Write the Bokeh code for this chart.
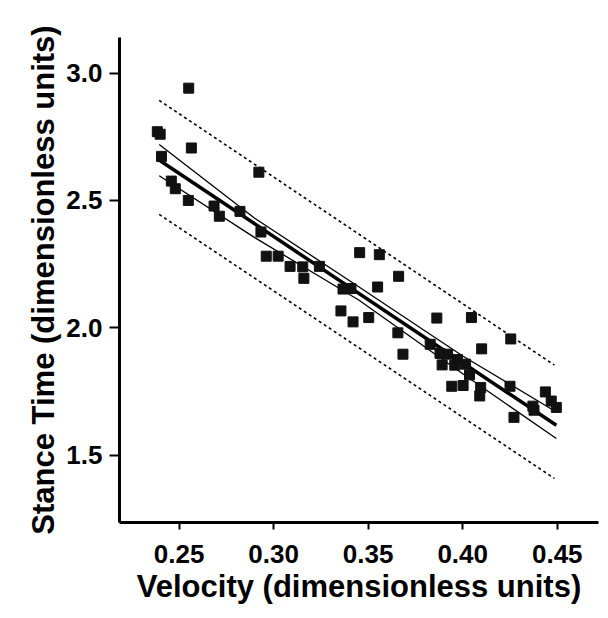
from bokeh.plotting import figure
from bokeh.models import Range1d, FixedTicker, PrintfTickFormatter
from bokeh.embed import file_html
from bokeh.resources import INLINE

# ---- data ----
velocity = [0.2385, 0.2400, 0.2551, 0.2565, 0.2407, 0.2459, 0.2480, 0.2549,
            0.2685, 0.2713, 0.2822, 0.2922, 0.2933, 0.2961, 0.3024, 0.3087,
            0.3154, 0.3160, 0.3242, 0.3455, 0.3559, 0.3661, 0.3367, 0.3409,
            0.3550, 0.3356, 0.3420, 0.3503, 0.3863, 0.4046, 0.3657, 0.3828,
            0.3684, 0.4100, 0.3880, 0.3920, 0.3972, 0.4015, 0.3891, 0.3958,
            0.4036, 0.3942, 0.4002, 0.4095, 0.4090, 0.4254, 0.4250, 0.4437,
            0.4468, 0.4495, 0.4371, 0.4377, 0.4271]
stance_time = [2.770, 2.760, 2.941, 2.706, 2.673, 2.576, 2.546, 2.500,
               2.478, 2.438, 2.457, 2.611, 2.376, 2.281, 2.281, 2.241,
               2.239, 2.194, 2.241, 2.295, 2.287, 2.202, 2.152, 2.154,
               2.160, 2.066, 2.023, 2.040, 2.038, 2.040, 1.980, 1.935,
               1.896, 1.917, 1.899, 1.896, 1.875, 1.857, 1.854, 1.853,
               1.815, 1.770, 1.773, 1.765, 1.732, 1.956, 1.770, 1.748,
               1.712, 1.687, 1.692, 1.676, 1.648]

fit_x = [0.2398, 0.4495]
fit_y = [2.657, 1.617]

ci_x = [0.2395, 0.290, 0.345, 0.400, 0.4495]
ci_upper = [2.720, 2.430, 2.161, 1.889, 1.669]
ci_lower = [2.597, 2.354, 2.109, 1.819, 1.565]

pi_x = [0.2395, 0.4485]
pi_upper = [2.893, 1.853]
pi_lower = [2.445, 1.408]

x_ticks = [0.25, 0.30, 0.35, 0.40, 0.45]
y_ticks = [1.5, 2.0, 2.5, 3.0]

FONT = "Liberation Sans"

p = figure(width=600, height=610, output_backend="svg", toolbar_location=None,
           x_range=Range1d(0.2185, 0.4718), y_range=Range1d(1.235, 3.14),
           min_border_left=119, min_border_right=2, min_border_top=37,
           min_border_bottom=88)
p.outline_line_color = None
p.grid.visible = False
p.background_fill_color = "white"
p.border_fill_color = "white"

# lines
p.line(pi_x, pi_upper, line_color="black", line_width=1.6, line_dash="3 3")
p.line(pi_x, pi_lower, line_color="black", line_width=1.6, line_dash="3 3")
p.line(ci_x, ci_upper, line_color="black", line_width=1.3)
p.line(ci_x, ci_lower, line_color="black", line_width=1.3)
p.line(fit_x, fit_y, line_color="black", line_width=3.5)

p.scatter(velocity, stance_time, marker="square", size=10,
          fill_color="#111111", line_color="#111111")

# axes styling
for ax in (p.xaxis[0], p.yaxis[0]):
    ax.axis_line_width = 3
    ax.axis_line_color = "black"
    ax.major_tick_line_width = 2
    ax.major_tick_in = 0
    ax.minor_tick_line_color = None
    ax.major_label_text_font = FONT
    ax.major_label_text_font_style = "bold"
    ax.major_label_text_font_size = "26px"
    ax.major_label_text_color = "black"
    ax.axis_label_text_font = FONT
    ax.axis_label_text_font_style = "bold"
    ax.axis_label_text_font_size = "31px"
    ax.axis_label_text_color = "black"

p.xaxis[0].ticker = FixedTicker(ticks=x_ticks)
p.xaxis[0].formatter = PrintfTickFormatter(format="%.2f")
p.xaxis[0].major_tick_out = 7
p.xaxis[0].major_label_standoff = 15
p.xaxis[0].axis_label = "Velocity (dimensionless units)"
p.xaxis[0].axis_label_standoff = 3

p.yaxis[0].ticker = FixedTicker(ticks=y_ticks)
p.yaxis[0].formatter = PrintfTickFormatter(format="%.1f")
p.yaxis[0].major_tick_out = 10
p.yaxis[0].major_label_standoff = 7
p.yaxis[0].axis_label = "Stance Time (dimensionless units)"
p.yaxis[0].axis_label_standoff = 2

open("out.html", "w").write(file_html(p, INLINE))
